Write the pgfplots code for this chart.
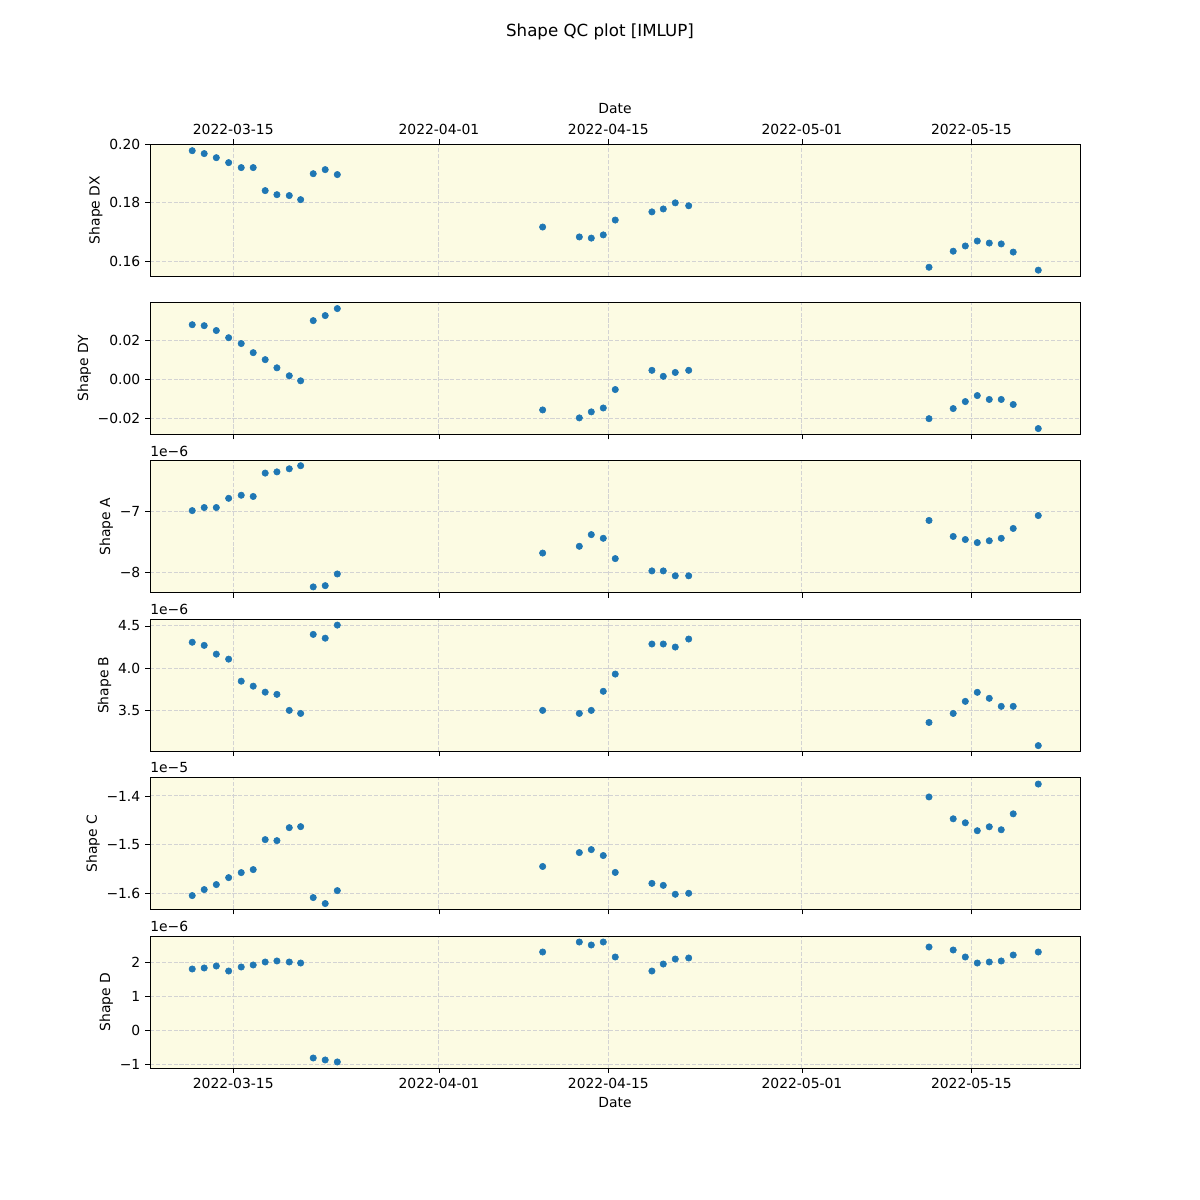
\documentclass[border=0pt]{standalone}
\usepackage{fontspec}
\setmainfont{DejaVu Sans}
\usepackage{pgfplots}
\pgfplotsset{compat=1.18}
\usepackage{pgfplotstable}

\definecolor{mplblue}{HTML}{1F77B4}
\definecolor{panelbg}{RGB}{252,251,227}
\definecolor{gridgray}{HTML}{D3D3D3}

% d = days after 2022-03-15; a,b,dd in 1e-6, c in 1e-5
\pgfplotstableread{
d      dx      dy       a      b      c        dd
-3.39  0.1979  0.0282  -6.99  4.307  -1.6047  1.794
-2.40  0.1969  0.0277  -6.94  4.270  -1.5924  1.824
-1.40  0.1955  0.0252  -6.94  4.166  -1.5821  1.882
-0.38  0.1938  0.0215  -6.79  4.107  -1.5678  1.735
0.66   0.1921  0.0185  -6.74  3.846  -1.5575  1.853
1.65   0.1921  0.0138  -6.76  3.787  -1.5513  1.912
2.64   0.1842  0.0102  -6.38  3.716  -1.4897  2.000
3.61   0.1828  0.0060  -6.36  3.690  -1.4918  2.030
4.63   0.1825  0.0019  -6.31  3.500  -1.4651  2.000
5.57   0.1811  -0.0007 -6.26  3.464  -1.4630  1.970
6.61   0.1900  0.0303  -8.23  4.400  -1.6088  -0.824
7.60   0.1914  0.0329  -8.21  4.355  -1.6211  -0.882
8.60   0.1897  0.0365  -8.02  4.510  -1.5945  -0.940
25.57  0.1717  -0.0157 -7.68  3.500  -1.5449  2.294
28.60  0.1683  -0.0198 -7.57  3.464  -1.5163  2.588
29.59  0.1679  -0.0167 -7.38  3.500  -1.5102  2.500
30.58  0.1690  -0.0147 -7.44  3.726  -1.5224  2.588
31.57  0.1741  -0.0052 -7.77  3.930  -1.5571  2.147
34.60  0.1769  0.0047  -7.97  4.286  -1.5796  1.735
35.54  0.1779  0.0016  -7.97  4.286  -1.5837  1.940
36.53  0.1800  0.0036  -8.05  4.250  -1.6020  2.088
37.64  0.1790  0.0047  -8.05  4.345  -1.6000  2.118
57.50  0.1579  -0.0202 -7.15  3.357  -1.4020  2.441
59.50  0.1634  -0.0150 -7.41  3.464  -1.4469  2.353
60.50  0.1652  -0.0114 -7.46  3.607  -1.4551  2.147
61.49  0.1669  -0.0083 -7.51  3.714  -1.4714  1.970
62.48  0.1662  -0.0103 -7.48  3.643  -1.4633  2.000
63.47  0.1659  -0.0103 -7.44  3.548  -1.4694  2.030
64.46  0.1631  -0.0129 -7.28  3.548  -1.4367  2.206
66.53  0.1569  -0.0253 -7.07  3.083  -1.3755  2.294
}\shapes

\pgfplotsset{
  qc/.style={
    scale only axis, width=669.6pt, height=95.04pt,
    anchor=south west,
    xmin=-6.88, xmax=69.98,
    xtick={0,17,31,47,61},
    xticklabels={2022-03-15,2022-04-01,2022-04-15,2022-05-01,2022-05-15},
    xtick pos=lower, ytick pos=left,
    scaled y ticks=false,
    tick align=outside,
    major tick length=3.5pt,
    grid=major,
    major grid style={gridgray, line width=0.7pt, dash pattern=on 2.96pt off 1.28pt},
    axis background/.style={fill=panelbg},
    axis line style={line width=0.6pt},
    every tick/.style={black, line width=0.6pt},
    font=\fontsize{10}{12}\selectfont,
    ticklabel style={font=\fontsize{10}{12}\selectfont},
    label style={font=\fontsize{10}{12}\selectfont},
    ylabel shift=-2pt,
    clip=false,
  },
  noxlabels/.style={xticklabels={}},
  dots/.style={only marks, mark=*, mark size=2.3pt, color=mplblue,
    mark options={draw=mplblue, fill=mplblue}},
}

\newcommand{\scalelabel}[1]{\node[anchor=base west, inner sep=0pt, yshift=3.4pt,
  font=\fontsize{10}{12}\selectfont] at (rel axis cs:0,1) {#1};}

\begin{document}
\begin{tikzpicture}
\useasboundingbox (0,0) rectangle (864pt,864pt);

\node[font=\fontsize{12}{14}\selectfont] at (432pt,841pt) {Shape QC plot [IMLUP]};

% Shape DX
\begin{axis}[qc, at={(108pt,665.28pt)},
    xtick pos=upper, xticklabel pos=upper, xlabel={Date},
    ymin=0.1549, ymax=0.2002,
    ytick={0.16,0.18,0.20}, yticklabels={0.16,0.18,0.20},
    ylabel={Shape DX}]
  \addplot[dots] table[x=d, y=dx] {\shapes};
\end{axis}

% Shape DY
\begin{axis}[qc, noxlabels, at={(108pt,551.23pt)},
    ymin=-0.0283, ymax=0.0397,
    ytick={-0.02,0,0.02}, yticklabels={−0.02,0.00,0.02},
    ylabel={Shape DY}]
  \addplot[dots] table[x=d, y=dy] {\shapes};
\end{axis}

% Shape A
\begin{axis}[qc, noxlabels, at={(108pt,437.18pt)},
    ymin=-8.326, ymax=-6.18,
    ytick={-8,-7}, yticklabels={−8,−7},
    ylabel={Shape A}]
  \addplot[dots] table[x=d, y=a] {\shapes};
  \scalelabel{1e−6}
\end{axis}

% Shape B
\begin{axis}[qc, noxlabels, at={(108pt,323.14pt)},
    ymin=3.017, ymax=4.58,
    ytick={3.5,4.0,4.5}, yticklabels={3.5,4.0,4.5},
    ylabel={Shape B}]
  \addplot[dots] table[x=d, y=b] {\shapes};
  \scalelabel{1e−6}
\end{axis}

% Shape C
\begin{axis}[qc, noxlabels, at={(108pt,209.09pt)},
    ymin=-1.6335, ymax=-1.3622,
    ytick={-1.6,-1.5,-1.4}, yticklabels={−1.6,−1.5,−1.4},
    ylabel={Shape C}]
  \addplot[dots] table[x=d, y=c] {\shapes};
  \scalelabel{1e−5}
\end{axis}

% Shape D
\begin{axis}[qc, at={(108pt,95.04pt)},
    xlabel={Date},
    ymin=-1.118, ymax=2.765,
    ytick={-1,0,1,2}, yticklabels={−1,0,1,2},
    ylabel={Shape D}]
  \addplot[dots] table[x=d, y=dd] {\shapes};
  \scalelabel{1e−6}
\end{axis}
\end{tikzpicture}
\end{document}
